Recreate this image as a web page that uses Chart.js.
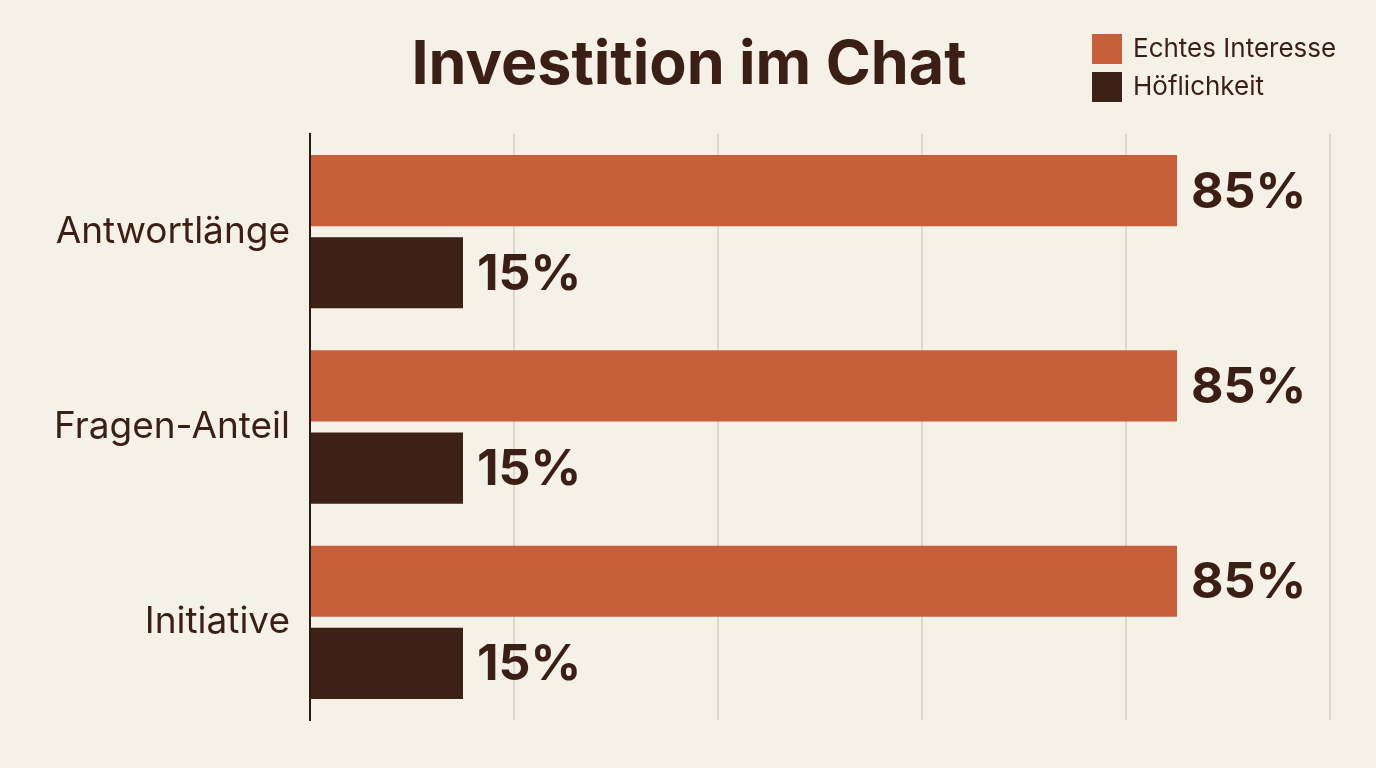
<!DOCTYPE html>
<html>
<head>
<meta charset="utf-8">
<script src="https://cdn.jsdelivr.net/npm/chart.js@4.4.1/dist/chart.umd.min.js"></script>
<style>
html,body{margin:0;padding:0;background:#f5f1e6;}
#wrap{position:relative;width:1376px;height:768px;}
</style>
</head>
<body>
<div id="wrap"><canvas id="c" width="1376" height="768"></canvas></div>
<script>
const categories = ["Antwortlänge", "Fragen-Anteil", "Initiative"];
const seriesNames = ["Echtes Interesse", "Höflichkeit"];
const echtesInteresse = [85, 85, 85];
const hoeflichkeit = [15, 15, 15];
const xTicks = [0, 20, 40, 60, 80, 100];
const titleText = "Investition im Chat";

const ORANGE = "#c65f3a";
const DARK = "#3d2116";
const TEXT = "#3b1f14";

const overlay = {
  id: "overlay",
  afterDraw(chart) {
    const ctx = chart.ctx;
    ctx.save();
    // title
    ctx.fillStyle = TEXT;
    ctx.font = "bold 61px Inter, 'Open Sans', sans-serif";
    ctx.textAlign = "center";
    ctx.textBaseline = "middle";
    ctx.fillText(titleText, 689, 66);
    // legend
    ctx.textAlign = "left";
    ctx.font = "26px Inter, 'Open Sans', sans-serif";
    chart.data.datasets.forEach((ds, i) => {
      const y = 34 + i * 38;
      ctx.fillStyle = ds.backgroundColor;
      ctx.fillRect(1092, y, 30, 30);
      ctx.fillStyle = TEXT;
      ctx.fillText(ds.label, 1133, y + 15);
    });
    // value labels
    ctx.font = "bold 50px Inter, 'Open Sans', sans-serif";
    ctx.textBaseline = "middle";
    chart.data.datasets.forEach((ds, i) => {
      const meta = chart.getDatasetMeta(i);
      meta.data.forEach((bar, j) => {
        ctx.fillStyle = TEXT;
        ctx.fillText(ds.data[j] + "%", bar.x + 14, bar.y + 2);
      });
    });
    ctx.restore();
  }
};

new Chart(document.getElementById("c"), {
  type: "bar",
  data: {
    labels: categories,
    datasets: [
      { label: seriesNames[0], data: echtesInteresse, backgroundColor: ORANGE, categoryPercentage: 0.841, barPercentage: 0.866 },
      { label: seriesNames[1], data: hoeflichkeit, backgroundColor: DARK, categoryPercentage: 0.841, barPercentage: 0.866 }
    ]
  },
  options: {
    indexAxis: "y",
    responsive: false,
    animation: false,
    layout: { padding: { top: 134, right: 46, bottom: 48, left: 0 } },
    plugins: { legend: { display: false }, title: { display: false }, tooltip: { enabled: false } },
    scales: {
      x: {
        min: 0, max: 100,
        afterBuildTicks(scale) { scale.ticks = xTicks.map(v => ({ value: v })); },
        ticks: { display: false },
        grid: { color: "#dcd8cc", lineWidth: 2, drawTicks: false },
        border: { display: false }
      },
      y: {
        afterFit(scale) { scale.width = 310; },
        ticks: { color: TEXT, font: { family: "Inter, 'Open Sans', sans-serif", size: 37 }, padding: 20 },
        grid: { display: false, drawTicks: false },
        border: { display: true, color: "#2a1a12", width: 2 }
      }
    }
  },
  plugins: [overlay]
});
</script>
</body>
</html>
